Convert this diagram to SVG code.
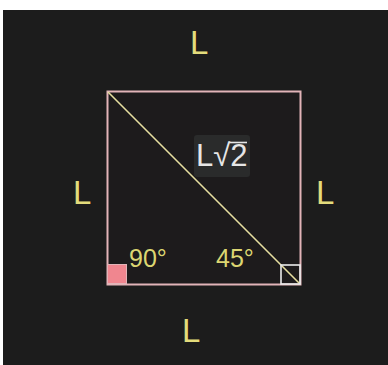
<svg xmlns="http://www.w3.org/2000/svg" width="388" height="365" viewBox="0 0 388 365">
<style>
.lbl{font-family:"Liberation Sans",Arial,sans-serif;font-size:33px;fill:#e3dc7c}
.ang{font-family:"Liberation Sans",Arial,sans-serif;font-size:25px;fill:#dcd672}
.hyp{font-family:"Liberation Sans",Arial,sans-serif;font-size:31px;fill:#e6e6e6}
</style>
<rect x="0" y="0" width="388" height="365" fill="#ffffff"/>
<rect x="3" y="10" width="385" height="355" fill="#1c1c1c"/>
<g id="square">
<rect x="107.5" y="91.5" width="193" height="193" fill="#1d1b1c" stroke="#e2b4b8" stroke-width="2"/>
</g>
<g id="connectors">
<line x1="108" y1="92" x2="300" y2="284" stroke="#e6dfa0" stroke-width="1.6"/>
</g>
<g id="right-angle-mark">
<rect x="107.5" y="264.5" width="19" height="19" fill="#f0868f" stroke="#e2b4b8" stroke-width="1"/>
</g>
<g id="angle45-mark">
<rect x="281" y="265" width="19" height="19" fill="none" stroke="#ececec" stroke-width="1.6"/>
</g>
<g id="label-top"><text class="lbl" x="190" y="54">L</text></g>
<g id="label-left"><text class="lbl" x="73" y="204">L</text></g>
<g id="label-right"><text class="lbl" x="316" y="204">L</text></g>
<g id="label-bottom"><text class="lbl" x="182" y="342">L</text></g>
<g id="label-hyp">
<rect x="194" y="135" width="56" height="42" rx="3" fill="#2a2b2b"/>
<text class="hyp" x="196" y="166">L√2</text>
<line x1="229" y1="142.5" x2="247" y2="142.5" stroke="#e6e6e6" stroke-width="1.6"/>
</g>
<g id="label-90"><text class="ang" x="129" y="267">90°</text></g>
<g id="label-45"><text class="ang" x="216" y="267">45°</text></g>
</svg>
